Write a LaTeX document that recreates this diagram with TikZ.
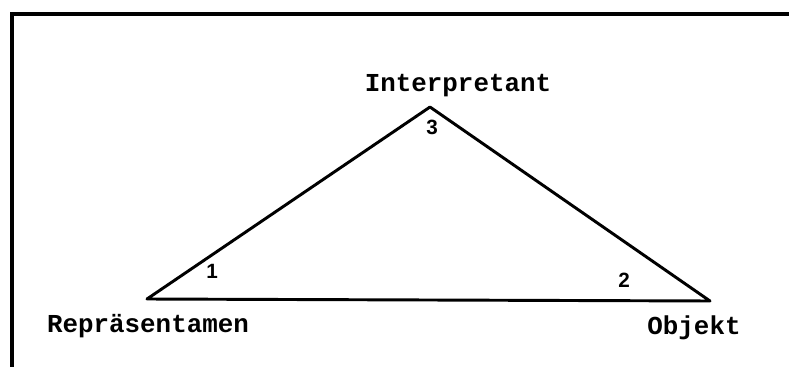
\documentclass[tikz,border=0pt]{standalone}
\usepackage{fontspec}
\newfontfamily\typefont{Liberation Mono}
\newfontfamily\numfont{Liberation Sans}

\tikzset{every picture/.style={line width=0.75pt}}

\begin{document}
\begin{tikzpicture}[x=0.75pt,y=0.75pt,yscale=-1,xscale=1]
		\useasboundingbox (0,0) rectangle (789,367);
		
		%Frame
		\draw [line width=3pt]  (12,367) -- (12,14) -- (789,14) ;
		
		%Corners
		\coordinate (R) at (147,299);
		\coordinate (I) at (430,107);
		\coordinate (O) at (710,301);
		
		%Triangle
		\draw [line width=2.2pt, line join=round]  (R) -- (I) -- (O) -- cycle ;
		
		% Text Node
		\node (interpretant) at (458,86) [inner sep=0.75pt] [font=\typefont\bfseries\fontsize{19.4}{21}\selectfont] {Interpretant};
		% Text Node
		\node (repr) at (148,326) [inner sep=0.75pt] [font=\typefont\bfseries\fontsize{19.4}{21}\selectfont] {Repräsentamen};
		% Text Node
		\node (objekt) at (694,328) [inner sep=0.75pt] [font=\typefont\bfseries\fontsize{19.4}{21}\selectfont] {Objekt};
		% Text Node
		\node (one) at (212,271) [inner sep=0.75pt] [font=\numfont\bfseries\fontsize{15.5}{17}\selectfont] {1};
		% Text Node
		\node (two) at (624,280) [inner sep=0.75pt] [font=\numfont\bfseries\fontsize{15.5}{17}\selectfont] {2};
		% Text Node
		\node (three) at (432,127) [inner sep=0.75pt] [font=\numfont\bfseries\fontsize{15.5}{17}\selectfont] {3};
	\end{tikzpicture}
\end{document}
